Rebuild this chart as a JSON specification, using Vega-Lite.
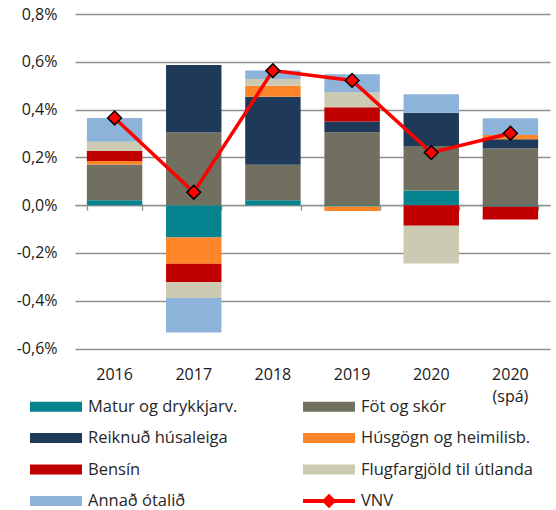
{
  "$schema": "https://vega.github.io/schema/vega-lite/v6.json",
  "width": 475,
  "height": 334.5,
  "autosize": "none",
  "padding": {"left": 75, "top": 14, "right": 6, "bottom": 161.5},
  "background": "white",
  "config": {
    "font": "Open Sans",
    "view": {"stroke": null},
    "axis": {"labelFont": "Open Sans", "labelColor": "#1a1a1a", "labelFontSize": 16, "title": null}
  },
  "datasets": {
    "contrib": [
      {"ar": "2016", "flokkur": "Matur og drykkjarv.", "v": 0.02},
      {"ar": "2016", "flokkur": "Föt og skór", "v": 0.15},
      {"ar": "2016", "flokkur": "Húsgögn og heimilisb.", "v": 0.015},
      {"ar": "2016", "flokkur": "Bensín", "v": 0.042},
      {"ar": "2016", "flokkur": "Flugfargjöld til útlanda", "v": 0.038},
      {"ar": "2016", "flokkur": "Annað ótalið", "v": 0.1},
      {"ar": "2017", "flokkur": "Matur og drykkjarv.", "v": -0.135},
      {"ar": "2017", "flokkur": "Föt og skór", "v": 0.304},
      {"ar": "2017", "flokkur": "Reiknuð húsaleiga", "v": 0.283},
      {"ar": "2017", "flokkur": "Húsgögn og heimilisb.", "v": -0.11},
      {"ar": "2017", "flokkur": "Bensín", "v": -0.077},
      {"ar": "2017", "flokkur": "Flugfargjöld til útlanda", "v": -0.067},
      {"ar": "2017", "flokkur": "Annað ótalið", "v": -0.144},
      {"ar": "2018", "flokkur": "Matur og drykkjarv.", "v": 0.021},
      {"ar": "2018", "flokkur": "Föt og skór", "v": 0.148},
      {"ar": "2018", "flokkur": "Reiknuð húsaleiga", "v": 0.285},
      {"ar": "2018", "flokkur": "Húsgögn og heimilisb.", "v": 0.046},
      {"ar": "2018", "flokkur": "Flugfargjöld til útlanda", "v": 0.028},
      {"ar": "2018", "flokkur": "Annað ótalið", "v": 0.036},
      {"ar": "2019", "flokkur": "Matur og drykkjarv.", "v": -0.006},
      {"ar": "2019", "flokkur": "Föt og skór", "v": 0.305},
      {"ar": "2019", "flokkur": "Reiknuð húsaleiga", "v": 0.045},
      {"ar": "2019", "flokkur": "Húsgögn og heimilisb.", "v": -0.018},
      {"ar": "2019", "flokkur": "Bensín", "v": 0.06},
      {"ar": "2019", "flokkur": "Flugfargjöld til útlanda", "v": 0.063},
      {"ar": "2019", "flokkur": "Annað ótalið", "v": 0.075},
      {"ar": "2020", "flokkur": "Matur og drykkjarv.", "v": 0.061},
      {"ar": "2020", "flokkur": "Föt og skór", "v": 0.187},
      {"ar": "2020", "flokkur": "Reiknuð húsaleiga", "v": 0.139},
      {"ar": "2020", "flokkur": "Bensín", "v": -0.086},
      {"ar": "2020", "flokkur": "Flugfargjöld til útlanda", "v": -0.158},
      {"ar": "2020", "flokkur": "Annað ótalið", "v": 0.077},
      {"ar": "2020 (spá)", "flokkur": "Matur og drykkjarv.", "v": -0.006},
      {"ar": "2020 (spá)", "flokkur": "Föt og skór", "v": 0.237},
      {"ar": "2020 (spá)", "flokkur": "Reiknuð húsaleiga", "v": 0.039},
      {"ar": "2020 (spá)", "flokkur": "Húsgögn og heimilisb.", "v": 0.018},
      {"ar": "2020 (spá)", "flokkur": "Bensín", "v": -0.054},
      {"ar": "2020 (spá)", "flokkur": "Annað ótalið", "v": 0.07}
    ],
    "vnv": [
      {"ar": "2016", "vnv": 0.365},
      {"ar": "2017", "vnv": 0.054},
      {"ar": "2018", "vnv": 0.563},
      {"ar": "2019", "vnv": 0.522},
      {"ar": "2020", "vnv": 0.22},
      {"ar": "2020 (spá)", "vnv": 0.301}
    ]
  },
  "layer": [
    {
      "data": {"name": "contrib"},
      "transform": [
        {"calculate": "indexof(['Matur og drykkjarv.', 'Föt og skór', 'Reiknuð húsaleiga', 'Húsgögn og heimilisb.', 'Bensín', 'Flugfargjöld til útlanda', 'Annað ótalið'], datum.flokkur)", "as": "rod"}
      ],
      "mark": {"type": "bar"},
      "encoding": {
        "x": {
          "field": "ar", "type": "nominal",
          "sort": ["2016", "2017", "2018", "2019", "2020", "2020 (spá)"],
          "scale": {"paddingInner": 0.3, "paddingOuter": 0.15},
          "axis": {"labelAngle": 0, "ticks": false, "domain": false, "labelPadding": 18, "labelLineHeight": 22, "labelBaseline": "top", "labelExpr": "split(datum.label, ' ')"}
        },
        "y": {
          "field": "v", "type": "quantitative", "stack": "zero",
          "scale": {"domain": [-0.6, 0.8], "nice": false, "zero": false},
          "axis": {
            "values": [-0.6, -0.4, -0.2, 0, 0.2, 0.4, 0.6, 0.8],
            "domain": false, "ticks": false, "labelPadding": 18,
            "gridColor": "#8f8f8f", "gridWidth": 1.3,
            "labelExpr": "(datum.value < -0.0001 ? '-' : '') + replace(format(abs(datum.value), '.1f'), '.', ',') + '%'"
          }
        },
        "order": {"field": "rod", "type": "quantitative", "sort": "ascending"},
        "color": {
          "field": "flokkur", "type": "nominal",
          "scale": {
            "domain": ["Matur og drykkjarv.", "Föt og skór", "Reiknuð húsaleiga", "Húsgögn og heimilisb.", "Bensín", "Flugfargjöld til útlanda", "Annað ótalið", "VNV"],
            "range": ["#05838F", "#716F60", "#1F3A58", "#FE8628", "#C00000", "#CCCAB2", "#8DB3DA", "#FF0000"]
          },
          "legend": {
            "title": null,
            "orient": "none",
            "legendX": -32,
            "legendY": 379.5,
            "columns": 2,
            "direction": "horizontal",
            "gridAlign": "each",
            "columnPadding": 65,
            "rowPadding": 9.5,
            "symbolType": "M-2,-0.38H2V0.38H-2Z",
            "symbolSize": 676,
            "symbolStrokeWidth": 0,
            "symbolOpacity": 1,
            "labelFont": "Open Sans",
            "labelFontSize": 16.5,
            "labelColor": "#262626",
            "labelOffset": 19,
            "labelLimit": 300,
            "encode": {
              "symbols": {
                "update": {
                  "shape": {"signal": "datum.value === 'VNV' ? 'M-2,-0.16H2V0.16H-2Z M0,-0.56L0.56,0L0,0.56L-0.56,0Z' : 'M-2,-0.38H2V0.38H-2Z'"},
                  "fill": {"signal": "scale('color', datum.value)"},
                  "strokeWidth": {"value": 0}
                }
              }
            }
          }
        }
      }
    },
    {
      "data": {"name": "vnv"},
      "mark": {"type": "line", "color": "#FF0000", "strokeWidth": 3.5},
      "encoding": {
        "x": {
          "field": "ar", "type": "nominal",
          "sort": ["2016", "2017", "2018", "2019", "2020", "2020 (spá)"],
          "axis": {"orient": "bottom", "offset": -143.36, "labels": false, "ticks": true, "tickBand": "extent", "tickSize": 5, "tickColor": "#8f8f8f", "tickWidth": 1.3, "domain": true, "domainColor": "#8f8f8f", "domainWidth": 1.3, "grid": false}
        },
        "y": {"field": "vnv", "type": "quantitative"}
      }
    },
    {
      "data": {"name": "vnv"},
      "mark": {"type": "point", "shape": "diamond", "filled": true, "fill": "#FF0000", "stroke": "#000000", "strokeWidth": 1.5, "size": 190, "opacity": 1},
      "encoding": {
        "x": {
          "field": "ar", "type": "nominal",
          "sort": ["2016", "2017", "2018", "2019", "2020", "2020 (spá)"],
          "axis": null
        },
        "y": {"field": "vnv", "type": "quantitative"}
      }
    }
  ],
  "resolve": {"axis": {"x": "independent"}}
}
